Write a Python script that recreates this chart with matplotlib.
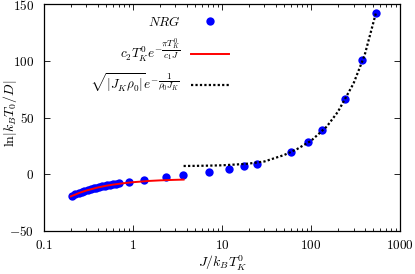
import matplotlib
matplotlib.use('Agg')
from matplotlib import pyplot as plt
from matplotlib.ticker import FixedLocator, FixedFormatter, LogLocator, NullFormatter

plt.rcParams['mathtext.fontset'] = 'cm'
plt.rcParams['font.family'] = 'serif'
plt.rcParams['font.serif'] = ['DejaVu Serif']

# NRG points
nrg_x = [0.205, 0.225, 0.245, 0.265, 0.285, 0.31, 0.335, 0.36, 0.385, 0.415,
         0.445, 0.48, 0.515, 0.555, 0.6, 0.65, 0.70, 0.91, 1.32, 2.35, 3.67,
         7.2, 12.0, 17.8, 24.9, 59, 93, 134, 241, 371, 537]
nrg_y = [-19.3, -17.6, -16.3, -15.3, -14.5, -13.6, -12.9, -12.2, -11.7, -11.1,
         -10.6, -10.1, -9.6, -9.2, -8.7, -8.3, -7.9, -6.8, -4.7, -2.4, -0.6,
         2.0, 4.7, 7.0, 9.4, 19.6, 28.8, 39.4, 66.3, 100.4, 142.5]

# red curve (small J)
red_x = [0.2, 0.25, 0.3, 0.4, 0.5, 0.6, 0.8, 1.0, 1.5, 2.0, 2.5, 3.0, 3.7]
red_y = [-19.5, -16.4, -14.3, -11.7, -10.1, -9.1, -7.8, -7.0, -5.9, -5.4, -5.1, -4.9, -4.7]

# black dotted curve (large J)
blk_x = [3.7, 5, 7, 10, 15, 20, 30, 50, 70, 100, 150, 200, 300, 400, 537]
blk_y = [7.3, 7.4, 7.6, 7.9, 8.7, 9.4, 11.3, 17.0, 22.3, 29.5, 42.0, 55.0, 80.0, 105.0, 142.5]

xticks = [0.1, 1, 10, 100, 1000]
xtick_labels = ['0.1', '1', '10', '100', '1000']
yticks = [-50, 0, 50, 100, 150]

fig = plt.figure(figsize=(4.15, 2.74), dpi=100)
ax = fig.add_axes([0.106, 0.157, 0.858, 0.828])

ax.plot(nrg_x, nrg_y, 'o', color='#0000ff', markersize=6, markeredgewidth=0,
        label=r'$NRG$', zorder=3)
ax.plot(red_x, red_y, '-', color='#ff0000', lw=1.4,
        label=r'$c_2 T_K^0 e^{-\dfrac{\pi T_K^0}{c_1 J}}$', zorder=4)
ax.plot(blk_x, blk_y, color='black', lw=1.6, linestyle=(0, (1, 1)),
        label=r'$\sqrt{|J_K\rho_0|}e^{-\dfrac{1}{\rho_0 J_K}}$', zorder=4)

ax.set_xscale('log')
ax.set_xlim(0.1, 1000)
ax.set_ylim(-50, 150)
ax.xaxis.set_major_locator(FixedLocator(xticks))
ax.xaxis.set_major_formatter(FixedFormatter([r'$\mathrm{%s}$' % s for s in xtick_labels]))
ax.xaxis.set_minor_locator(LogLocator(base=10, subs=range(2, 10)))
ax.xaxis.set_minor_formatter(NullFormatter())
ax.set_yticks(yticks)
ax.set_yticklabels([r'$%d$' % v for v in yticks])

ax.tick_params(which='both', direction='in', top=True, right=True, labelsize=9.5)
ax.tick_params(which='major', length=4, width=0.6)
ax.tick_params(which='minor', length=2, width=0.6)
ax.tick_params(axis='x', pad=6)
ax.tick_params(axis='y', pad=7)
for s in ax.spines.values():
    s.set_linewidth(0.9)

ax.set_xlabel(r'$J/k_B T_K^0$', fontsize=10, labelpad=1)
ax.set_ylabel(r'$\ln|k_B T_0/D|$', fontsize=10)
ax.yaxis.set_label_coords(-0.07, 0.52)

ax.legend(loc='upper right', bbox_to_anchor=(0.535, 0.975), frameon=False,
          markerfirst=False, fontsize=9.5, handlelength=2.9, labelspacing=0.55,
          handletextpad=0.8, borderaxespad=0)

fig.savefig('out.png', dpi=100)
